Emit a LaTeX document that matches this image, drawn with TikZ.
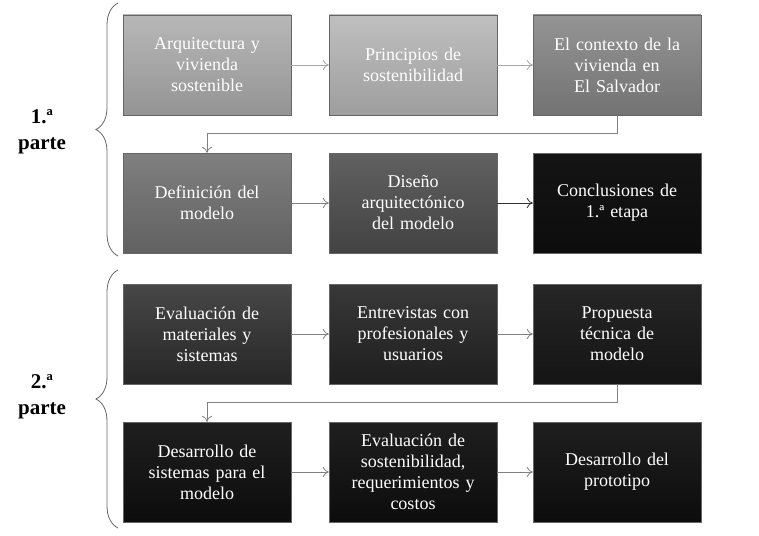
\documentclass[tikz,border=0pt]{standalone}
\usepackage{fontspec}
\setmainfont{Liberation Serif}
\usetikzlibrary{decorations.pathreplacing,arrows.meta}
\begin{document}
\begin{tikzpicture}[x=1pt,y=-1pt,
  box/.style={minimum width=168pt,minimum height=100pt,text width=150pt,align=center,
    font=\fontsize{18}{21}\selectfont,text=white,draw=black!60,line width=0.4pt},
  conn/.style={draw=black!50,line width=0.8pt,-{To[length=6pt,width=10pt]}},
  lab/.style={font=\bfseries\fontsize{21}{26}\selectfont,align=center}]
\useasboundingbox (0,0) rectangle (759,535);
\node[box,top color=black!28,bottom color=black!42] (a1) at (207,65) {Arquitectura y\\vivienda\\sostenible};
\node[box,top color=black!25,bottom color=black!38] (a2) at (413,65) {Principios de\\sostenibilidad};
\node[box,top color=black!42,bottom color=black!55] (a3) at (617,65) {El contexto de la\\vivienda en\\El Salvador};
\node[box,top color=black!50,bottom color=black!62] (b1) at (207,203) {Definición del\\modelo};
\node[box,top color=black!62,bottom color=black!74] (b2) at (413,203) {Diseño\\arquitectónico\\del modelo};
\node[box,top color=black!92,bottom color=black!95] (b3) at (617,203) {Conclusiones de\\1.ª etapa};
\node[box,top color=black!72,bottom color=black!85] (c1) at (207,334) {Evaluación de\\materiales y\\sistemas};
\node[box,top color=black!78,bottom color=black!88] (c2) at (413,334) {Entrevistas con\\profesionales y\\usuarios};
\node[box,top color=black!85,bottom color=black!92] (c3) at (617,334) {Propuesta\\técnica de\\modelo};
\node[box,top color=black!88,bottom color=black!95] (d1) at (207,472) {Desarrollo de\\sistemas para el\\modelo};
\node[box,top color=black!88,bottom color=black!95] (d2) at (413,472) {Evaluación de\\sostenibilidad,\\requerimientos y\\costos};
\node[box,top color=black!88,bottom color=black!95] (d3) at (617,472) {Desarrollo del\\prototipo};
\draw[conn,draw=black!35] (a1) -- (a2);
\draw[conn,draw=black!35] (a2) -- (a3);
\draw[conn] (a3.south) -- ++(0,18) -| (b1.north);
\draw[conn] (b1) -- (b2);
\draw[conn,draw=black!80] (b2) -- (b3);
\draw[conn] (c1) -- (c2);
\draw[conn] (c2) -- (c3);
\draw[conn] (c3.south) -- ++(0,18) -| (d1.north);
\draw[conn] (d1) -- (d2);
\draw[conn] (d2) -- (d3);
\coordinate (br1t) at (118,3); \coordinate (br1b) at (118,256);
\coordinate (br2t) at (118,270); \coordinate (br2b) at (118,528);
\draw[black!60,line width=0.8pt,decorate,decoration={brace,amplitude=22pt}] (br1b) -- (br1t);
\draw[black!60,line width=0.8pt,decorate,decoration={brace,amplitude=22pt}] (br2b) -- (br2t);
\node[lab] (l1) at (42,132) {1.ª\\parte};
\node[lab] (l2) at (42,397) {2.ª\\parte};
\end{tikzpicture}
\end{document}
